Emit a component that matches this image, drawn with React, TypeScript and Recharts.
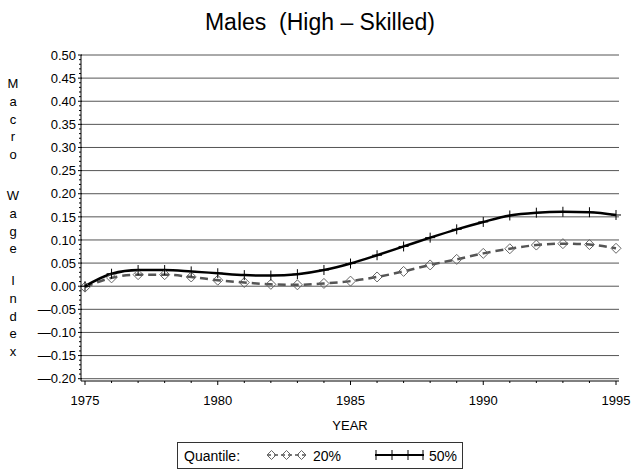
import React from 'react';
import { LineChart, Line, XAxis, YAxis, CartesianGrid } from 'recharts';

const years = [1975, 1976, 1977, 1978, 1979, 1980, 1981, 1982, 1983, 1984, 1985, 1986, 1987, 1988, 1989, 1990, 1991, 1992, 1993, 1994, 1995];
const q20Values = [-0.002, 0.018, 0.025, 0.025, 0.020, 0.013, 0.008, 0.004, 0.003, 0.006, 0.011, 0.020, 0.032, 0.046, 0.058, 0.071, 0.081, 0.089, 0.092, 0.090, 0.082];
const q50Values = [0.000, 0.027, 0.035, 0.035, 0.032, 0.028, 0.024, 0.023, 0.026, 0.035, 0.049, 0.067, 0.086, 0.105, 0.123, 0.139, 0.153, 0.159, 0.161, 0.160, 0.154];
const yMajorTicks = [-0.2, -0.15, -0.1, -0.05, 0, 0.05, 0.1, 0.15, 0.2, 0.25, 0.3, 0.35, 0.4, 0.45, 0.5];
const yMinorTicks = Array.from({ length: 71 }, (_, i) => (i - 20) / 100);
const xMajorTicks = [1975, 1980, 1985, 1990, 1995];
const yDomain: [number, number] = [-0.205, 0.5];
const seriesLabels = ['20%', '50%'];
const legendTitle = 'Quantile:';
const chartTitle = 'Males  (High \u2013 Skilled)';
const yAxisTitleWords = ['Macro', 'Wage', 'Index'];
const xAxisTitle = 'YEAR';

const data = years.map((year, i) => ({ year, q20: q20Values[i], q50: q50Values[i] }));

const FONT = '"Liberation Sans", Arial, Helvetica, sans-serif';

const fmtY = (v: number) => {
  if (Math.abs(v) < 1e-9) return '0.00';
  return v < 0 ? '\u2014' + Math.abs(v).toFixed(2) : v.toFixed(2);
};

const YTick = (props: any) => {
  const { x, y, payload } = props;
  const v = payload.value;
  const major = yMajorTicks.some((t) => Math.abs(t - v) < 1e-9);
  return (
    <g>
      <line x1={x - (major ? 3 : 2)} x2={x + (major ? 1 : 0)} y1={y} y2={y} stroke="#000" strokeWidth={1} />
      {major && (
        <text x={x - 5} y={y} dy="0.36em" textAnchor="end" fontSize={13} fontFamily={FONT} fill="#000">
          {fmtY(v)}
        </text>
      )}
    </g>
  );
};

const XTick = (props: any) => {
  const { x, y, payload } = props;
  const major = xMajorTicks.includes(payload.value);
  return (
    <g>
      <line x1={x} x2={x} y1={y} y2={y + (major ? 4 : 2)} stroke="#000" strokeWidth={1} />
      {major && (
        <text x={x} y={y + 24} textAnchor="middle" fontSize={13} fontFamily={FONT} fill="#000">
          {payload.value}
        </text>
      )}
    </g>
  );
};

const PlusDot = (props: any) => {
  const { cx, cy, index } = props;
  if (cx == null || cy == null) return <g key={`p${index}`} />;
  return (
    <g key={`p${index}`}>
      <line x1={cx} x2={cx} y1={cy - 5} y2={cy + 5} stroke="#000" strokeWidth={1} />
      <line x1={cx - 5} x2={cx + 5} y1={cy} y2={cy} stroke="#000" strokeWidth={1} />
    </g>
  );
};

const DiamondDot = (props: any) => {
  const { cx, cy, index } = props;
  if (cx == null || cy == null) return <g key={`d${index}`} />;
  return (
    <path
      key={`d${index}`}
      d={`M${cx},${cy - 5} L${cx + 5},${cy} L${cx},${cy + 5} L${cx - 5},${cy} Z`}
      fill="none"
      stroke="#666"
      strokeWidth={1}
    />
  );
};

const YTitle = () => {
  const pitch = 17.8;
  const starts = [88, 200, 285];
  const items: any[] = [];
  yAxisTitleWords.forEach((w, wi) => {
    w.split('').forEach((ch, ci) => {
      items.push(
        <text key={`${wi}-${ci}`} x={13} y={starts[wi] + ci * pitch} textAnchor="middle" fontSize={13} fontFamily={FONT} fill="#000">
          {ch}
        </text>
      );
    });
  });
  return <g>{items}</g>;
};

const XTitle = (props: any) => {
  const vb = props.viewBox || { x: 81, width: 538 };
  return (
    <text x={vb.x + vb.width / 2} y={430} textAnchor="middle" fontSize={13} fontFamily={FONT} fill="#000">
      {xAxisTitle}
    </text>
  );
};

const gridGen = (p: any) => {
  const off = p.offset || { top: 55, height: 326 };
  const span = yDomain[1] - yDomain[0];
  return yMajorTicks.map((v) => off.top + ((yDomain[1] - v) / span) * off.height);
};

export default function App() {
  return (
    <div style={{ position: 'absolute', left: 0, top: 0, width: 631, height: 470, background: '#fff' }}>
      <LineChart width={631} height={470} data={data} margin={{ top: 55, right: 12, bottom: 0, left: 0 }}>
        <CartesianGrid vertical={false} stroke="#555" strokeWidth={1} horizontalCoordinatesGenerator={gridGen} />
        <XAxis
          type="number"
          dataKey="year"
          domain={[1975, 1995]}
          ticks={years}
          interval={0}
          padding={{ left: 4, right: 3 }}
          tickLine={false}
          tickSize={0}
          tickMargin={0}
          axisLine={{ stroke: '#000', strokeWidth: 1 }}
          height={89}
          tick={<XTick />}
          label={{ content: <XTitle /> } as any}
        />
        <YAxis
          type="number"
          domain={yDomain}
          allowDataOverflow
          ticks={yMinorTicks}
          interval={0}
          width={81}
          tickLine={false}
          tickSize={0}
          tickMargin={0}
          axisLine={{ stroke: '#000', strokeWidth: 1 }}
          tick={<YTick />}
          label={{ content: <YTitle /> } as any}
        />
        <Line
          dataKey="q20"
          type="monotone"
          stroke="#555"
          strokeWidth={2.5}
          strokeDasharray="8 5"
          dot={DiamondDot}
          isAnimationActive={false}
        />
        <Line
          dataKey="q50"
          type="monotone"
          stroke="#000"
          strokeWidth={2.5}
          dot={PlusDot}
          isAnimationActive={false}
        />
      </LineChart>
      <svg width={631} height={470} style={{ position: 'absolute', left: 0, top: 0, pointerEvents: 'none' }}>
        <text x={320} y={30} textAnchor="middle" fontSize={23} fontFamily={FONT} fill="#000" style={{ whiteSpace: 'pre' }}>
          {chartTitle}
        </text>
        <rect x={177.5} y={442.5} width={285} height={26} fill="none" stroke="#333" strokeWidth={1} />
        <text x={184} y={460.5} fontSize={14} fontFamily={FONT} fill="#000">{legendTitle}</text>
        <line x1={267} x2={307} y1={455} y2={455} stroke="#555" strokeWidth={1.5} strokeDasharray="4 3" />
        {[271.5, 286.5, 301.5].map((cx) => (
          <path key={cx} d={`M${cx},${450.5} L${cx + 4.5},${455} L${cx},${459.5} L${cx - 4.5},${455} Z`} fill="none" stroke="#666" strokeWidth={1} />
        ))}
        <text x={313} y={460.5} fontSize={14} fontFamily={FONT} fill="#000">{seriesLabels[0]}</text>
        <line x1={375} x2={424} y1={455} y2={455} stroke="#000" strokeWidth={2} />
        {[376, 392, 408, 423].map((cx) => (
          <line key={cx} x1={cx} x2={cx} y1={450} y2={460} stroke="#000" strokeWidth={1} />
        ))}
        <text x={429} y={460.5} fontSize={14} fontFamily={FONT} fill="#000">{seriesLabels[1]}</text>
      </svg>
    </div>
  );
}
